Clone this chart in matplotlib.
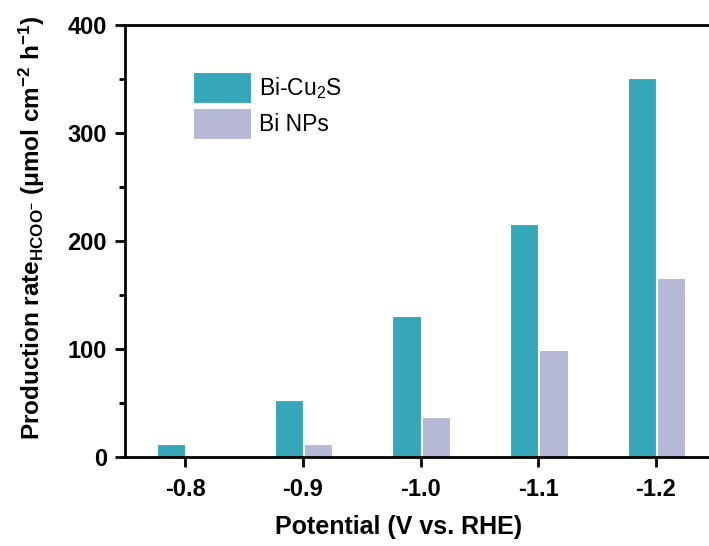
import numpy as np
import matplotlib.pyplot as plt
from matplotlib.ticker import MultipleLocator

plt.rcParams['font.family'] = ['Liberation Sans', 'DejaVu Sans']
plt.rcParams['mathtext.fontset'] = 'custom'
plt.rcParams['mathtext.rm'] = 'Liberation Sans:bold'
plt.rcParams['mathtext.bf'] = 'Liberation Sans:bold'
plt.rcParams['mathtext.it'] = 'Liberation Sans:bold'

# data
potentials = ['-0.8', '-0.9', '-1.0', '-1.1', '-1.2']
bi_cu2s = [12, 53, 131, 216, 351]
bi_nps = [0, 12, 37, 99, 166]

teal = '#36A7B8'
lavender = '#B5B9D5'

fig = plt.figure(figsize=(7.09, 5.46), dpi=100)
ax = fig.add_axes([125 / 709, 89 / 546, 1 - 125 / 709, 432 / 546])

x = np.arange(len(potentials))
w = 0.24
ax.bar(x - 0.12, bi_cu2s, width=w, color=teal, edgecolor='white', linewidth=0.8,
       label=r'Bi-Cu$_{\mathregular{2}}$S')
ax.bar(x + 0.13, bi_nps, width=w, color=lavender, edgecolor='white', linewidth=0.8,
       label='Bi NPs')

ax.set_xlim(-0.51, 4.45)
ax.set_ylim(0, 400)
ax.set_xticks(x)
ax.set_xticklabels(potentials)
ax.yaxis.set_major_locator(MultipleLocator(100))
ax.yaxis.set_minor_locator(MultipleLocator(50))

for s in ['left', 'bottom', 'top']:
    ax.spines[s].set_linewidth(2)
ax.spines['right'].set_visible(False)
ax.tick_params(axis='both', which='major', direction='out', length=7, width=2,
               labelsize=17)
ax.tick_params(axis='y', which='major', pad=6)
ax.tick_params(axis='x', which='major', pad=8)
ax.tick_params(axis='y', which='minor', direction='out', length=4, width=2)
for lab in ax.get_xticklabels() + ax.get_yticklabels():
    lab.set_fontweight('bold')

ax.set_xlabel('Potential (V vs. RHE)', fontsize=18, fontweight='bold')
ax.xaxis.set_label_coords(0.469, -0.134)
ax.set_ylabel(r'Production rate$_{\mathregular{HCOO^{-}}}$ (μmol cm$^{\mathregular{-2}}$ h$^{\mathregular{-1}}$)',
              fontsize=17.5, fontweight='bold', labelpad=15)
ax.yaxis.label.set_y(0.531)

ax.legend(loc='upper left', bbox_to_anchor=(0.1, 0.913), frameon=False, fontsize=16.5,
          handlelength=2.55, handleheight=1.7, labelspacing=0.25, handletextpad=0.35,
          borderaxespad=0)

fig.savefig('out.png', dpi=100)
